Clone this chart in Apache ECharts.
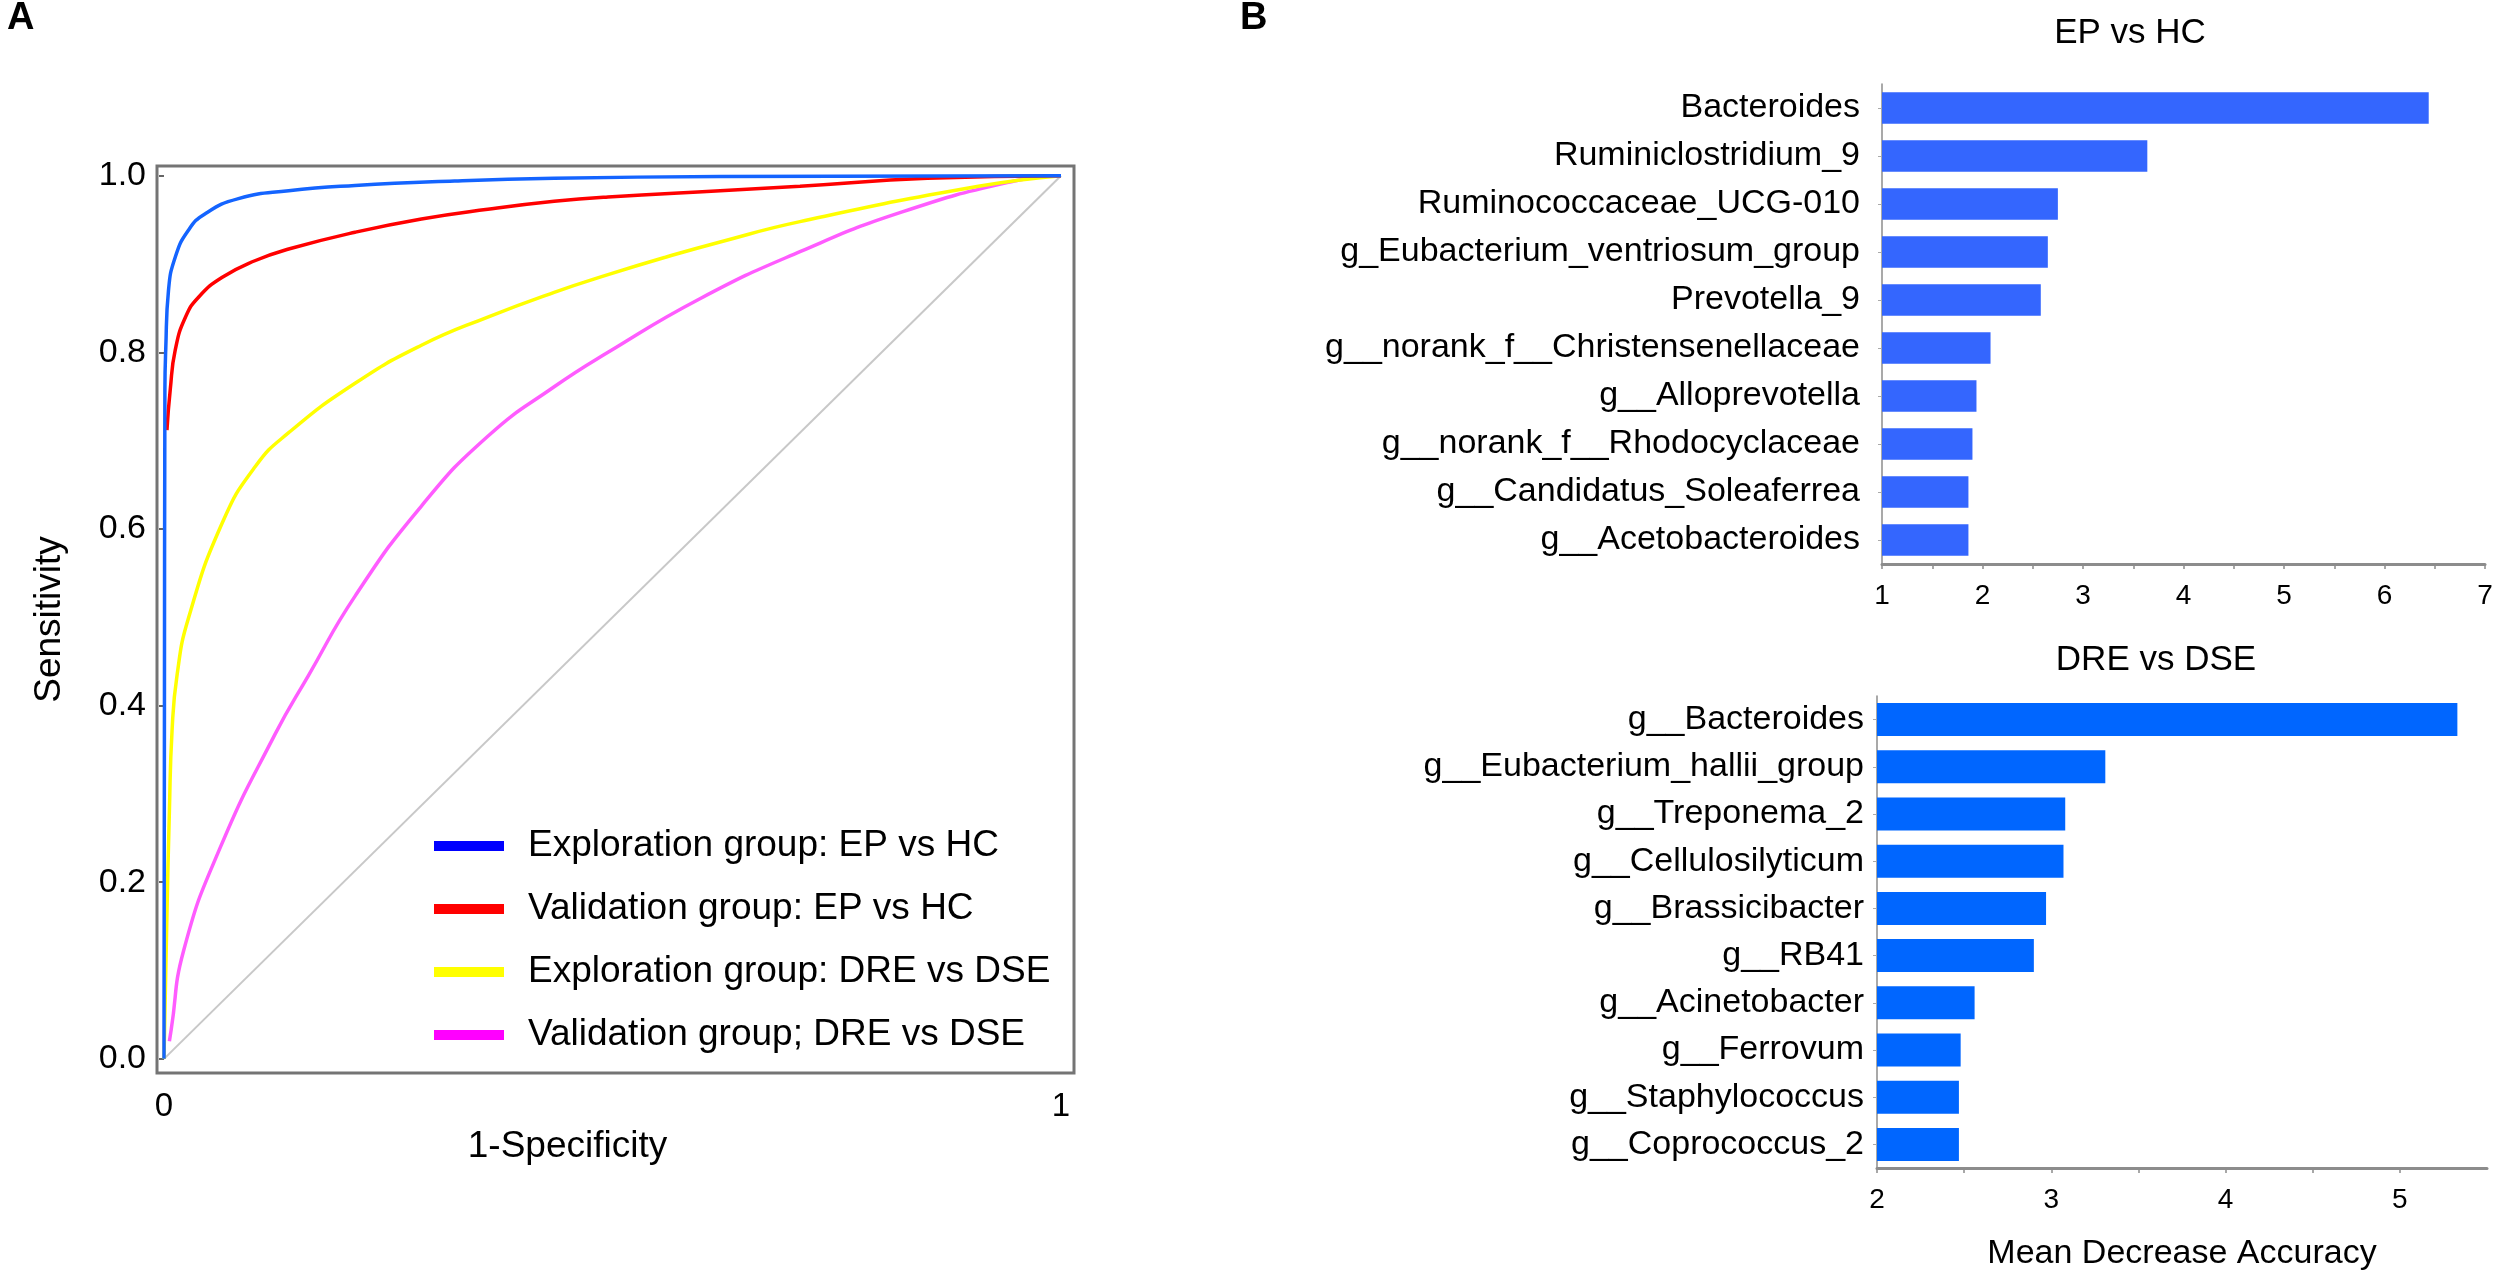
<!DOCTYPE html>
<html>
<head>
<meta charset="utf-8">
<script src="https://cdn.jsdelivr.net/npm/echarts@6/dist/echarts.min.js"></script>
<style>
html,body{margin:0;padding:0;background:#fff;}
#chart{width:2500px;height:1281px;}
</style>
</head>
<body>
<div id="chart"></div>
<script>
// ---------- Panel A: ROC curves (x = 1-Specificity, y = Sensitivity) ----------
const rocNames = ['Exploration group: EP vs HC', 'Validation group: EP vs HC',
                  'Exploration group: DRE vs DSE', 'Validation group; DRE vs DSE'];
const rocBlue = [[0,0],[0.0005,0.40],[0.001,0.757],[0.002,0.805],[0.005,0.870],[0.0126,0.908],
  [0.027,0.938],[0.046,0.957],[0.083,0.974],[0.139,0.983],[0.213,0.989],[0.324,0.994],
  [0.435,0.997],[0.62,0.999],[1,1]];
const rocRed = [[0.0033,0.712],[0.007,0.758],[0.0126,0.803],[0.024,0.840],[0.039,0.863],
  [0.065,0.885],[0.102,0.904],[0.139,0.917],[0.213,0.936],[0.287,0.951],[0.361,0.962],
  [0.435,0.971],[0.495,0.976],[0.62,0.983],[0.709,0.988],[0.851,0.997],[1,1]];
const rocYellow = [[0,0],[0.003,0.15],[0.006,0.28],[0.009,0.372],[0.0145,0.434],[0.027,0.498],
  [0.065,0.607],[0.102,0.671],[0.139,0.709],[0.213,0.765],[0.287,0.808],[0.361,0.840],
  [0.435,0.868],[0.495,0.888],[0.560,0.908],[0.62,0.925],[0.709,0.948],[0.908,0.988],[1,1]];
const rocMagenta = [[0.006,0.020],[0.008,0.033],[0.022,0.123],[0.063,0.240],[0.124,0.368],
  [0.161,0.434],[0.213,0.524],[0.287,0.626],[0.361,0.705],[0.435,0.761],[0.495,0.800],
  [0.598,0.861],[0.709,0.914],[0.823,0.959],[0.948,0.994],[1,1]];
const rocDiagonal = [[0,0],[1,1]];
const rocXTicks = [0, 1];
const rocYTicks = [0, 0.2, 0.4, 0.6, 0.8, 1.0];

// ---------- Panel B top: EP vs HC ----------
const topCats = ['Bacteroides','Ruminiclostridium_9','Ruminococcaceae_UCG-010',
  'g_Eubacterium_ventriosum_group','Prevotella_9','g__norank_f__Christensenellaceae',
  'g__Alloprevotella','g__norank_f__Rhodocyclaceae','g__Candidatus_Soleaferrea','g__Acetobacteroides'];
const topVals = [6.44, 3.64, 2.75, 2.65, 2.58, 2.08, 1.94, 1.90, 1.86, 1.86];
const topXLabels = [1, 2, 3, 4, 5, 6, 7];
const topXTicks = [1, 1.5, 2, 2.5, 3, 3.5, 4, 4.5, 5, 5.5, 6, 6.5, 7];

// ---------- Panel B bottom: DRE vs DSE ----------
const botCats = ['g__Bacteroides','g__Eubacterium_hallii_group','g__Treponema_2',
  'g__Cellulosilyticum','g__Brassicibacter','g__RB41','g__Acinetobacter','g__Ferrovum',
  'g__Staphylococcus','g__Coprococcus_2'];
const botVals = [5.33, 3.31, 3.08, 3.07, 2.97, 2.90, 2.56, 2.48, 2.47, 2.47];
const botXLabels = [2, 3, 4, 5];
const botXTicks = [2, 2.5, 3, 3.5, 4, 4.5, 5];

const FONT = "'Liberation Sans', Arial, Helvetica, sans-serif";
const chart = echarts.init(document.getElementById('chart'), null, {renderer: 'canvas'});

function rocLine(name, data, color, z) {
  return {
    type: 'line', name: name, data: data, xAxisIndex: 0, yAxisIndex: 0,
    showSymbol: false, smooth: 0.5, z: z,
    lineStyle: {color: color, width: 3.5}, itemStyle: {color: color}
  };
}
function barXAxis(grid, min, max, labels, ticks, extra) {
  return Object.assign({
    gridIndex: grid, type: 'value', min: min, max: max,
    splitLine: {show: false},
    axisLine: {show: true, lineStyle: {color: '#8c8c8c', width: 3}},
    axisTick: {show: true, customValues: ticks, length: 5, lineStyle: {color: '#8c8c8c', width: 1.5}},
    axisLabel: {customValues: labels, fontSize: 28, color: '#000', fontFamily: FONT, margin: 18,
                formatter: v => String(v)}
  }, extra || {});
}
function barYAxis(grid, cats, margin) {
  return {
    gridIndex: grid, type: 'category', data: cats, inverse: true,
    axisLine: {show: true, lineStyle: {color: '#8c8c8c', width: 1.5}},
    axisTick: {show: true, alignWithLabel: true, length: 4, lineStyle: {color: '#aaaaaa'}},
    axisLabel: {fontSize: 34, color: '#000', fontFamily: FONT, margin: margin},
    splitLine: {show: false}
  };
}

const option = {
  animation: false,
  backgroundColor: '#ffffff',
  textStyle: {fontFamily: FONT},
  title: [
    {text: 'A', left: 7, top: 0, padding: 0, textStyle: {fontSize: 38, fontWeight: 'bold', color: '#000', fontFamily: FONT}},
    {text: 'B', left: 1240, top: 0, padding: 0, textStyle: {fontSize: 38, fontWeight: 'bold', color: '#000', fontFamily: FONT}},
    {text: 'EP vs HC', left: 2130, top: 16, padding: 0, textAlign: 'center',
     textStyle: {fontSize: 35, fontWeight: 'normal', color: '#000', fontFamily: FONT}},
    {text: 'DRE vs DSE', left: 2156, top: 643, padding: 0, textAlign: 'center',
     textStyle: {fontSize: 35, fontWeight: 'normal', color: '#000', fontFamily: FONT}}
  ],
  legend: {
    orient: 'vertical', left: 434, top: 826, padding: 0,
    itemWidth: 70, itemHeight: 10, itemGap: 23, icon: 'rect',
    textStyle: {fontSize: 37, color: '#000', fontFamily: FONT, lineHeight: 40, padding: [0, 0, 0, 19]},
    data: [
      {name: rocNames[0], itemStyle: {color: '#0000ff'}},
      {name: rocNames[1], itemStyle: {color: '#ff0000'}},
      {name: rocNames[2], itemStyle: {color: '#ffff00'}},
      {name: rocNames[3], itemStyle: {color: '#ff00ff'}}
    ]
  },
  grid: [
    {left: 157, top: 166, width: 917, height: 907, show: true, borderColor: '#747474', borderWidth: 3},
    {left: 1882, top: 84, width: 603, height: 480},
    {left: 1877, top: 696, width: 610, height: 472}
  ],
  xAxis: [
    {
      gridIndex: 0, type: 'value', min: -0.0078, max: 1.0145,
      splitLine: {show: false}, axisLine: {show: false}, axisTick: {show: false},
      axisLabel: {customValues: rocXTicks, fontSize: 33, color: '#000', fontFamily: FONT, margin: 17,
                  formatter: v => String(v)},
      name: '1-Specificity', nameLocation: 'middle', nameGap: 34,
      nameTextStyle: {fontSize: 37, color: '#000', fontFamily: FONT, padding: [0, 96, 0, 0]}
    },
    barXAxis(1, 1, 7, topXLabels, topXTicks),
    barXAxis(2, 2, 5.5, botXLabels, botXTicks, {
      name: 'Mean Decrease Accuracy', nameLocation: 'middle', nameGap: 69,
      nameTextStyle: {fontSize: 34, color: '#000', fontFamily: FONT}
    })
  ],
  yAxis: [
    {
      gridIndex: 0, type: 'value', min: -0.016, max: 1.011,
      splitLine: {show: false}, axisLine: {show: false},
      axisTick: {show: true, customValues: rocYTicks, length: 5, lineStyle: {color: '#333', width: 1.5}},
      axisLabel: {customValues: rocYTicks, fontSize: 34, color: '#000', fontFamily: FONT, margin: 11,
                  formatter: v => v.toFixed(1)},
      name: 'Sensitivity', nameLocation: 'middle', nameGap: 89,
      nameTextStyle: {fontSize: 37, color: '#000', fontFamily: FONT}
    },
    barYAxis(1, topCats, 22),
    barYAxis(2, botCats, 13)
  ],
  series: [
    {type: 'line', name: 'diagonal', data: rocDiagonal, xAxisIndex: 0, yAxisIndex: 0,
     showSymbol: false, z: 1, lineStyle: {color: '#c8c8c8', width: 2}},
    rocLine(rocNames[3], rocMagenta, '#ff5cff', 2),
    rocLine(rocNames[2], rocYellow, '#ffff00', 3),
    rocLine(rocNames[1], rocRed, '#ff0000', 4),
    rocLine(rocNames[0], rocBlue, '#1464ff', 5),
    {type: 'bar', xAxisIndex: 1, yAxisIndex: 1, data: topVals, barWidth: '66%',
     itemStyle: {color: '#3466fe'}},
    {type: 'bar', xAxisIndex: 2, yAxisIndex: 2, data: botVals, barWidth: '70%',
     itemStyle: {color: '#0066ff'}}
  ]
};
chart.setOption(option);
</script>
</body>
</html>
